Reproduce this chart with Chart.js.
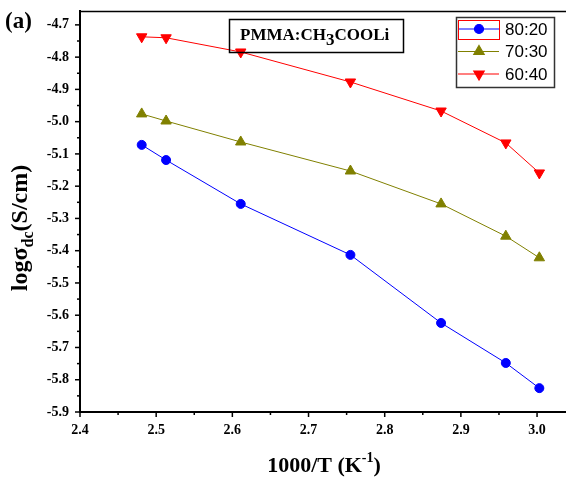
<!DOCTYPE html>
<html>
<head>
<meta charset="utf-8">
<script src="https://cdn.jsdelivr.net/npm/chart.js@4.4.1/dist/chart.umd.min.js"></script>
<style>
  body { margin: 0; background: #fff; }
  #wrap { width: 566px; height: 478px; }
</style>
</head>
<body>
<div id="wrap"><canvas id="myChart" width="566" height="478"></canvas></div>
<script>
// data
const xValues = [2.481, 2.513, 2.611, 2.755, 2.874, 2.959, 3.003];
const y8020 = [-5.072, -5.119, -5.255, -5.413, -5.624, -5.748, -5.826];
const y7030 = [-4.976, -4.998, -5.063, -5.153, -5.255, -5.355, -5.422];
const y6040 = [-4.737, -4.740, -4.784, -4.877, -4.967, -5.066, -5.159];
const seriesLabels = ["80:20", "70:30", "60:40"];
const xTickVals = [2.4, 2.5, 2.6, 2.7, 2.8, 2.9, 3.0];
const yTickVals = [-5.9, -5.8, -5.7, -5.6, -5.5, -5.4, -5.3, -5.2, -5.1, -5.0, -4.9, -4.8, -4.7];

const serif = "'Liberation Serif', 'Times New Roman', serif";
const sans = "'Liberation Sans', Arial, sans-serif";

function pts(ys) {
  return xValues.map((x, i) => ({ x: x, y: ys[i] }));
}

// no extra room for edge labels, the frame sits on fixed pixels
function noPad(s) {
  s.paddingTop = 0; s.paddingBottom = 0;
  s.paddingLeft = 0; s.paddingRight = 0;
}

// minor ticks, frame, titles and legend
const decor = {
  id: 'decor',
  afterDraw(chart) {
    const ctx = chart.ctx;
    const xs = chart.scales.x, ys = chart.scales.y;
    const a = chart.chartArea;
    ctx.save();
    ctx.strokeStyle = '#000';

    // top frame line
    ctx.lineWidth = 1.5;
    ctx.beginPath();
    ctx.moveTo(a.left, a.top + 0.5);
    ctx.lineTo(chart.width, a.top + 0.5);
    ctx.stroke();

    // ticks (outward), major every 0.1, minor every 0.05
    ctx.lineWidth = 1.5;
    for (let i = 0; i <= 13; i++) {
      const v = 2.4 + i * 0.05;
      const px = xs.getPixelForValue(v);
      if (px > a.right) break;
      const len = i % 2 === 0 ? 5 : 3;
      ctx.beginPath();
      ctx.moveTo(px, a.bottom);
      ctx.lineTo(px, a.bottom + len);
      ctx.stroke();
    }
    for (let i = 0; i <= 25; i++) {
      const v = -5.9 + i * 0.05;
      const py = ys.getPixelForValue(v);
      if (py < a.top) break;
      const len = i % 2 === 0 ? 5 : 3;
      ctx.beginPath();
      ctx.moveTo(a.left, py);
      ctx.lineTo(a.left - len, py);
      ctx.stroke();
    }

    ctx.fillStyle = '#000';
    ctx.textBaseline = 'alphabetic';

    // panel label
    ctx.font = 'bold 23px ' + serif;
    ctx.textAlign = 'left';
    ctx.fillText('(a)', 5, 28);

    // x title
    const t1 = '1000/T (K', t2 = '-1', t3 = ')';
    ctx.font = 'bold 22px ' + serif;
    const w1 = ctx.measureText(t1).width, w3 = ctx.measureText(t3).width;
    ctx.font = 'bold 14px ' + serif;
    const w2 = ctx.measureText(t2).width;
    let sx = 324 - (w1 + w2 + w3) / 2;
    ctx.font = 'bold 22px ' + serif;
    ctx.fillText(t1, sx, 472);
    ctx.font = 'bold 14px ' + serif;
    ctx.fillText(t2, sx + w1, 462);
    ctx.font = 'bold 22px ' + serif;
    ctx.fillText(t3, sx + w1 + w2, 472);

    // y title (rotated)
    ctx.save();
    ctx.translate(27, 228);
    ctx.rotate(-Math.PI / 2);
    const y1 = 'log\u03c3', y2 = 'dc', y3 = '(S/cm)';
    ctx.font = 'bold 24px ' + serif;
    const v1 = ctx.measureText(y1).width, v3 = ctx.measureText(y3).width;
    ctx.font = 'bold 16px ' + serif;
    const v2 = ctx.measureText(y2).width;
    let sy = -(v1 + v2 + v3) / 2;
    ctx.font = 'bold 24px ' + serif;
    ctx.fillText(y1, sy, 0);
    ctx.font = 'bold 16px ' + serif;
    ctx.fillText(y2, sy + v1, 6);
    ctx.font = 'bold 24px ' + serif;
    ctx.fillText(y3, sy + v1 + v2, 0);
    ctx.restore();

    // sample label box
    ctx.lineWidth = 1.5;
    ctx.strokeRect(229.5, 19.5, 174, 33);
    ctx.font = 'bold 17px ' + serif;
    const b1 = 'PMMA:CH', b2 = '3', b3 = 'COOLi';
    let bx = 240;
    ctx.fillText(b1, bx, 40);
    bx += ctx.measureText(b1).width;
    ctx.fillText(b2, bx, 45);
    bx += ctx.measureText(b2).width;
    ctx.fillText(b3, bx, 40);

    // legend
    ctx.strokeStyle = '#333';
    ctx.lineWidth = 1.5;
    ctx.strokeRect(456.5, 17.5, 98, 70);
    chart.data.datasets.forEach((ds, i) => {
      const ry = 29 + i * 22.5;
      ctx.strokeStyle = ds.borderColor;
      ctx.lineWidth = 1.2;
      ctx.beginPath();
      ctx.moveTo(458, ry);
      ctx.lineTo(499, ry);
      ctx.stroke();
      ctx.fillStyle = ds.pointBackgroundColor;
      ctx.strokeStyle = ds.borderColor;
      Chart.helpers.drawPoint(ctx, {
        pointStyle: ds.pointStyle,
        radius: ds.pointRadius,
        rotation: ds.pointRotation || 0,
        borderWidth: 1
      }, 479, ry);
      ctx.fillStyle = '#000';
      ctx.font = '17px ' + sans;
      ctx.textBaseline = 'middle';
      ctx.fillText(ds.label, 505, ry + 1);
      ctx.textBaseline = 'alphabetic';
    });
    // highlight frame round first legend sample
    ctx.strokeStyle = '#ff0000';
    ctx.lineWidth = 1;
    ctx.strokeRect(458.5, 20.5, 41, 19);

    ctx.restore();
  }
};

new Chart("myChart", {
  type: "scatter",
  data: {
    datasets: [
      {
        label: seriesLabels[0],
        data: pts(y8020),
        showLine: true,
        borderColor: "#0000ff",
        pointBackgroundColor: "#0000ff",
        borderWidth: 1,
        pointStyle: "circle",
        pointRadius: 4.5,
        pointHoverRadius: 4.5
      },
      {
        label: seriesLabels[1],
        data: pts(y7030),
        showLine: true,
        borderColor: "#808000",
        pointBackgroundColor: "#808000",
        borderWidth: 1,
        pointStyle: "triangle",
        pointRadius: 6,
        pointHoverRadius: 6
      },
      {
        label: seriesLabels[2],
        data: pts(y6040),
        showLine: true,
        borderColor: "#ff0000",
        pointBackgroundColor: "#ff0000",
        borderWidth: 1,
        pointStyle: "triangle",
        pointRotation: 180,
        pointRadius: 6,
        pointHoverRadius: 6
      }
    ]
  },
  options: {
    responsive: false,
    animation: false,
    layout: { autoPadding: false, padding: { left: 0, right: 0, top: 11, bottom: 0 } },
    plugins: {
      legend: { display: false },
      tooltip: { enabled: false }
    },
    scales: {
      x: {
        type: "linear",
        min: 2.4,
        max: 3.038,
        afterFit: s => { s.height = 66; noPad(s); },
        afterBuildTicks: s => { s.ticks = xTickVals.map(v => ({ value: v })); },
        grid: { display: false, drawTicks: false },
        border: { display: true, color: "#000", width: 2 },
        ticks: {
          padding: 10,
          color: "#000",
          maxRotation: 0,
          autoSkip: false,
          font: { family: serif, size: 14, weight: "bold" },
          callback: v => v.toFixed(1)
        }
      },
      y: {
        type: "linear",
        min: -5.9,
        max: -4.657,
        afterFit: s => { s.width = 80; noPad(s); },
        afterBuildTicks: s => { s.ticks = yTickVals.map(v => ({ value: v })); },
        grid: { display: false, drawTicks: false },
        border: { display: true, color: "#000", width: 2 },
        ticks: {
          padding: 11,
          color: "#000",
          autoSkip: false,
          font: { family: serif, size: 14, weight: "bold" },
          callback: v => v.toFixed(1)
        }
      }
    }
  },
  plugins: [decor]
});
</script>
</body>
</html>
